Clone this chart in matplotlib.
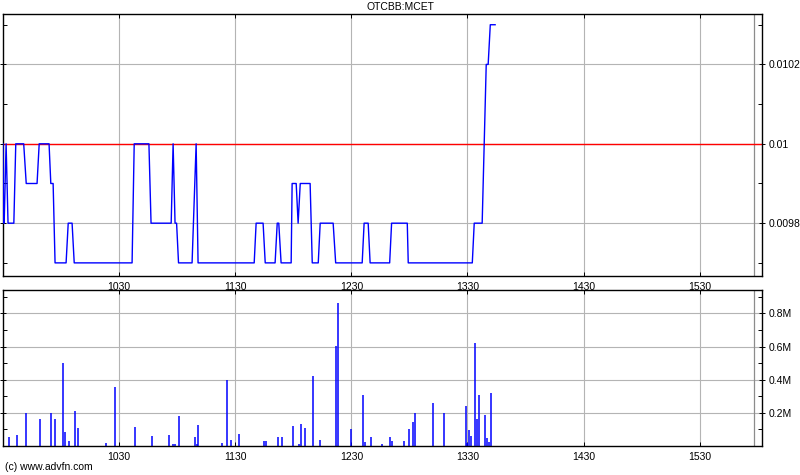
import matplotlib
matplotlib.use('Agg')
import matplotlib.pyplot as plt
from matplotlib.ticker import FixedLocator, MultipleLocator, FuncFormatter

plt.rcParams['font.family'] = ['Liberation Sans', 'DejaVu Sans']

# time in minutes since midnight
price_times = [570.0, 570.3, 570.6, 571.6, 572.6, 575.6, 576.6, 580.7, 582.0, 587.6,
               588.7, 593.8, 594.7, 595.9, 596.9, 602.6, 603.7, 605.7, 606.8, 636.7,
               637.8, 645.4, 646.5, 656.9, 657.9, 658.9, 659.7, 660.7, 667.7, 669.8,
               670.8, 699.8, 700.8, 704.4, 705.5, 710.6, 711.7, 712.5, 713.7, 718.9,
               719.4, 721.5, 722.5, 723.6, 728.7, 729.8, 732.9, 733.9, 740.6, 741.9,
               755.6, 756.6, 758.7, 759.7, 769.8, 770.8, 778.9, 779.4, 812.5, 813.5,
               817.6, 819.7, 820.7, 821.8, 824.3]
prices = [0.0100, 0.0098, 0.0098, 0.0100, 0.0098, 0.0098, 0.0100, 0.0100, 0.0099, 0.0099,
          0.0100, 0.0100, 0.0099, 0.0099, 0.0097, 0.0097, 0.0098, 0.0098, 0.0097, 0.0097,
          0.0100, 0.0100, 0.0098, 0.0098, 0.0100, 0.0098, 0.0098, 0.0097, 0.0097, 0.0100,
          0.0097, 0.0097, 0.0098, 0.0098, 0.0097, 0.0097, 0.0098, 0.0098, 0.0097, 0.0097,
          0.0099, 0.0099, 0.0098, 0.0099, 0.0099, 0.0097, 0.0097, 0.0098, 0.0098, 0.0097,
          0.0097, 0.0098, 0.0098, 0.0097, 0.0097, 0.0098, 0.0098, 0.0097, 0.0097, 0.0098,
          0.0098, 0.0102, 0.0102, 0.0103, 0.0103]

vol_times = [570, 573, 577, 582, 589, 595, 597, 601, 602, 604, 607, 609, 623, 628,
             638, 647, 656, 658, 659, 661, 669, 670, 671, 683, 686, 688, 692,
             705, 706, 712, 714, 720, 723, 724, 726, 730, 734, 742, 743, 750,
             756, 757, 760, 766, 770, 771, 777, 780, 782, 783, 792, 798,
             809, 810, 811, 812, 814, 815, 816, 819, 820, 821, 822]
vol_values = [0.02, 0.054, 0.066, 0.199, 0.163, 0.199, 0.163, 0.50, 0.084, 0.03, 0.211, 0.108, 0.018, 0.355,
              0.114, 0.06, 0.066, 0.012, 0.012, 0.18, 0.054, 0.012, 0.126, 0.018, 0.398, 0.036, 0.072,
              0.032, 0.032, 0.057, 0.057, 0.123, 0.014, 0.135, 0.111, 0.42, 0.038, 0.602, 0.863, 0.105,
              0.305, 0.026, 0.057, 0.014, 0.057, 0.032, 0.032, 0.105, 0.147, 0.202, 0.257, 0.202,
              0.244, 0.02, 0.099, 0.063, 0.62, 0.166, 0.305, 0.19, 0.051, 0.026, 0.317]

hour_ticks = [630, 690, 750, 810, 870, 930]
hour_labels = ['1030', '1130', '1230', '1330', '1430', '1530']
price_ticks = [0.0098, 0.0100, 0.0102]
price_labels = ['0.0098', '0.01', '0.0102']
ref_price = 0.01
session_end = 958

grid_col = '#b4b4b4'

fig = plt.figure(figsize=(8, 4.75), dpi=100)
ax1 = fig.add_axes([0.00375, 0.419, 0.94875, 0.5515])
ax2 = fig.add_axes([0.00375, 0.061, 0.94875, 0.3285])

for ax in (ax1, ax2):
    ax.set_xlim(570, 962.2)
    ax.xaxis.set_major_locator(FixedLocator(hour_ticks))
    ax.set_xticklabels(hour_labels)
    ax.grid(True, color=grid_col, linewidth=0.8)
    ax.axvline(session_end, color='#8c8c8c', linewidth=0.9)
    ax.tick_params(axis='both', which='both', direction='in', top=True, right=True,
                   left=True, bottom=True, labelleft=False, labelright=True,
                   labelsize=7.5, pad=3, length=3, width=0.7)
    ax.tick_params(axis='y', which='major', direction='inout', length=5, pad=2)
    ax.tick_params(axis='x', pad=4)
    for s in ax.spines.values():
        s.set_linewidth(1.0)

ax1.axhline(ref_price, color='red', linewidth=1.0, zorder=2)
ax1.plot(price_times, prices, color='#0000ff', linewidth=1.0, zorder=3)
ax1.set_ylim(0.009667, 0.010327)
ax1.yaxis.set_major_locator(FixedLocator(price_ticks))
ax1.set_yticklabels(price_labels)
ax1.yaxis.set_minor_locator(FixedLocator([0.0097, 0.0099, 0.0101, 0.0103]))

ax2.vlines(vol_times, 0, vol_values, color='#0000ff', linewidth=1.1)
ax2.set_ylim(0, 0.9416)
ax2.yaxis.set_major_locator(FixedLocator([0.2, 0.4, 0.6, 0.8]))
ax2.yaxis.set_major_formatter(FuncFormatter(lambda v, p: f'{v:.1f}M'))
ax2.yaxis.set_minor_locator(MultipleLocator(0.1))

fig.text(0.5, 0.985, 'OTCBB:MCET', fontsize=7.5, ha='center', va='center')
fig.text(0.006, 0.006, '(c) www.advfn.com', fontsize=7.5, ha='left', va='bottom')

fig.savefig('out.png', dpi=100)
